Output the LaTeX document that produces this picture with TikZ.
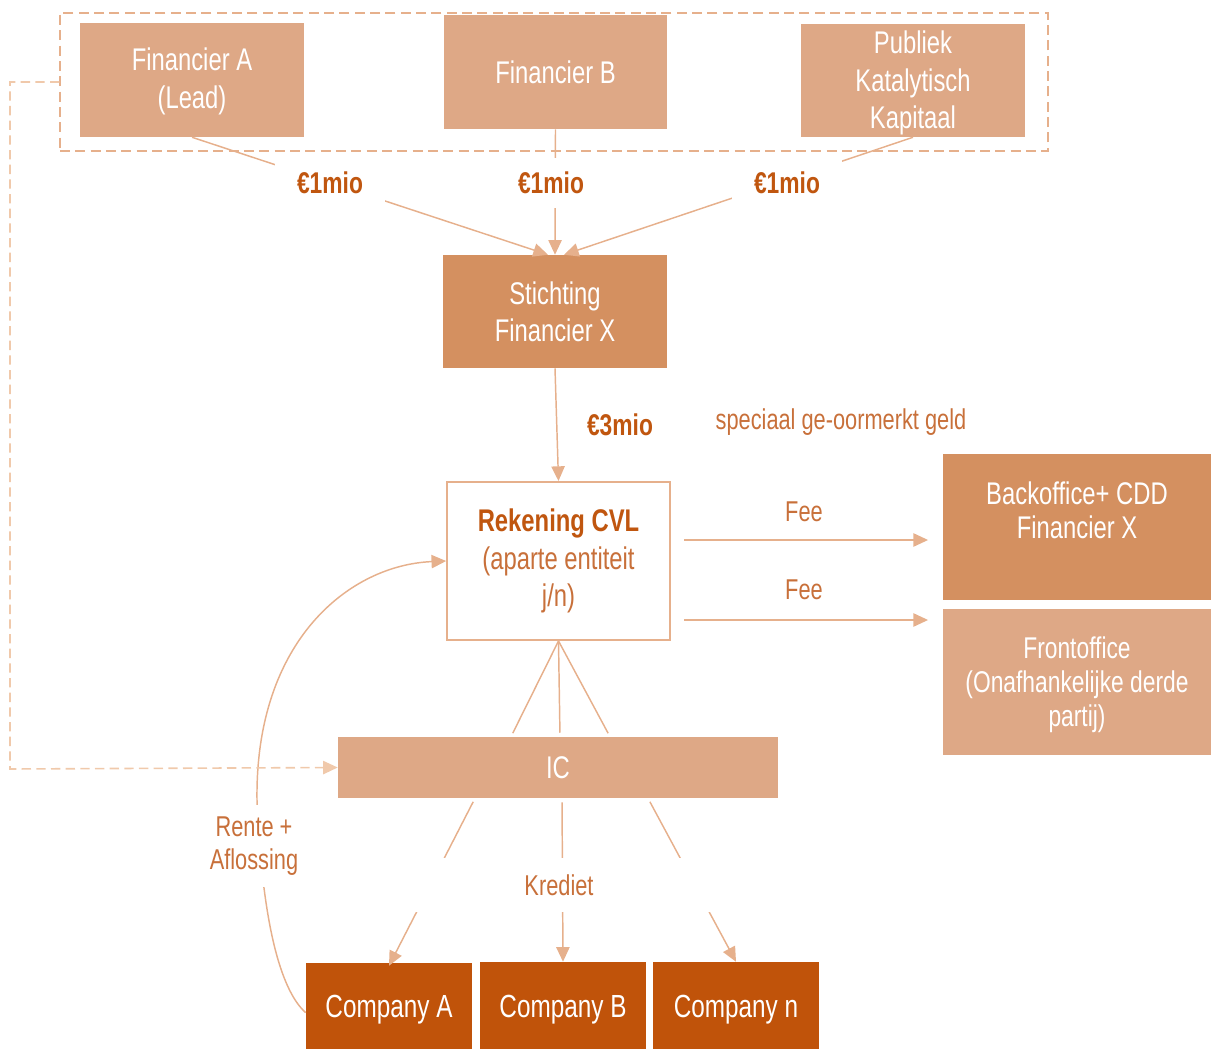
\documentclass[tikz,border=0pt]{standalone}
\usepackage{fontspec}
\setmainfont[FakeStretch=0.76]{Liberation Sans}
\usetikzlibrary{arrows.meta,calc}
\definecolor{lightbox}{HTML}{DEA886}
\definecolor{midbox}{HTML}{D49060}
\definecolor{darkbox}{HTML}{C0530A}
\definecolor{lineclr}{HTML}{E6B08C}
\definecolor{dashclr}{HTML}{F0C9AB}
\definecolor{lblclr}{HTML}{C8703A}
\definecolor{amtclr}{HTML}{C0560F}
\begin{document}
\begin{tikzpicture}[x=0.75pt,y=-0.75pt,
  box/.style={draw=none, inner sep=2pt, align=center, text=white, font=\fontsize{23.5}{28}\selectfont},
  flow/.style={draw=lineclr, line width=1.1pt, -{Triangle[length=11pt,width=10pt]}},
  plainline/.style={draw=lineclr, line width=1.1pt},
  amt/.style={fill=white, text=amtclr, font=\fontsize{22.5}{25}\selectfont\bfseries, minimum width=82pt, minimum height=37pt},
  lbl/.style={text=lblclr, font=\fontsize{21.5}{24.75}\selectfont, align=center}]
\useasboundingbox (0,0) rectangle (1211,1049);

% group box
\node[draw=lineclr, dash pattern=on 7.5pt off 4pt, line width=1pt, minimum width=741pt, minimum height=103.5pt] (grp) at (554,82) {};

% top boxes
\node[box, fill=lightbox, minimum width=168pt, minimum height=85.5pt] (fa) at (192,80) {};
\node[box, font=\fontsize{23.5}{29}\selectfont] (fatext) at (192,81.5) {Financier A\\(Lead)};
\node[box, fill=lightbox, minimum width=167.25pt, minimum height=85.5pt] (fb) at (555.5,72) {Financier B};
\node[box, fill=lightbox, minimum width=168pt, minimum height=84.75pt] (pk) at (913,80.5) {};
\node[box] (pktext) at (913,83) {Publiek\\Katalytisch\\Kapitaal};

% middle
\node[box, fill=midbox, minimum width=168pt, minimum height=84.75pt] (st) at (555,311.5) {Stichting\\Financier X};
\node[draw=lineclr, line width=1.5pt, fill=white, align=center, text=lblclr, font=\fontsize{23.5}{28.25}\selectfont, minimum width=167pt, minimum height=118.5pt] (rek) at (558.5,561) {{\color{amtclr}\bfseries Rekening CVL}\\(aparte entiteit\\j/n)};

\node[box, fill=midbox, minimum width=201pt, minimum height=109.5pt] (bo) at (1077,527) {};
\node[box, font=\fontsize{23.5}{25.5}\selectfont] (botext) at (1077,510) {Backoffice+ CDD\\Financier X};
\node[box, fill=lightbox, minimum width=201pt, minimum height=109.5pt] (fo) at (1077,682) {};
\node[box, font=\fontsize{22.5}{25.5}\selectfont] (fotext) at (1077,685) {Frontoffice\\(Onafhankelijke derde\\partij)};

\node[box, fill=lightbox, minimum width=330pt, minimum height=45.75pt] (ic) at (558,767.5) {IC};

% companies (bottom edge runs off the page)
\node[box, fill=darkbox, minimum width=124.5pt, minimum height=70.5pt, font=\fontsize{24}{28}\selectfont] (ca) at (389,1010) {Company A};
\node[box, fill=darkbox, minimum width=124.5pt, minimum height=71.25pt, font=\fontsize{24}{28}\selectfont] (cb) at (563,1009.5) {Company B};
\node[box, fill=darkbox, minimum width=124.5pt, minimum height=71.25pt, font=\fontsize{24}{28}\selectfont] (cn) at (736,1009.5) {Company n};

% financiers to stichting
\draw[flow] (fa.south) -- ([xshift=-5.25pt]st.north);
\draw[flow] (fb.south) -- (st.north);
\draw[flow] (pk.south) -- ([xshift=6.75pt]st.north);
\node[amt] (a1) at (330,183) {€1mio};
\node[amt] (a2) at (551,183) {€1mio};
\node[amt] (a3) at (787,183) {€1mio};

% stichting to rekening
\draw[flow] (st.south) -- (rek.north);
\node[lbl, text=amtclr, font=\fontsize{22.5}{25}\selectfont\bfseries] (a4) at (620,425) {€3mio};
\node[lbl] (oor) at (841,422) {speciaal ge-oormerkt geld};

% fees
\draw[flow, shorten <=10pt, shorten >=11pt] ([yshift=15.75pt]rek.east) -- ([yshift=15.75pt]rek.east -| bo.west);
\draw[flow, shorten <=10pt, shorten >=11pt] ([yshift=-44.25pt]rek.east) -- ([yshift=-44.25pt]rek.east -| fo.west);
\node[lbl] (fee1) at (804,512) {Fee};
\node[lbl] (fee2) at (804,590) {Fee};

% rekening to IC
\draw[plainline, shorten >=3pt] (rek.south) -- ([xshift=-35.25pt]ic.north);
\draw[plainline, shorten >=3pt] (rek.south) -- ([xshift=1.5pt]ic.north);
\draw[plainline, shorten >=3pt] (rek.south) -- ([xshift=39pt]ic.north);

% IC to companies
\draw[flow, shorten <=3pt] ([xshift=-62.25pt]ic.south) -- ([yshift=-2.25pt]ca.north);
\draw[flow, shorten <=3pt] ([xshift=3pt]ic.south) -- (cb.north);
\draw[flow, shorten <=3pt] ([xshift=67.5pt]ic.south) -- (cn.north);
\node[lbl, fill=white, minimum width=300pt, minimum height=40.5pt] (kred) at (559,885) {Krediet};

% repayment curve
\draw[flow] ([yshift=-2pt]ca.west) .. controls (280,990) and (262,920) .. (257,800) .. controls (255,640) and (350,565) .. (rek.west);
\node[lbl, fill=white, minimum height=61.5pt, inner sep=1pt] (rente) at (254,846) {Rente +\\Aflossing};

% dashed lead link
\draw[draw=dashclr, line width=1.2pt, dash pattern=on 7pt off 4pt, -{Triangle[length=11pt,width=10pt]}]
  (grp.west) -| (10,769) -- (ic.west);
\end{tikzpicture}
\end{document}
